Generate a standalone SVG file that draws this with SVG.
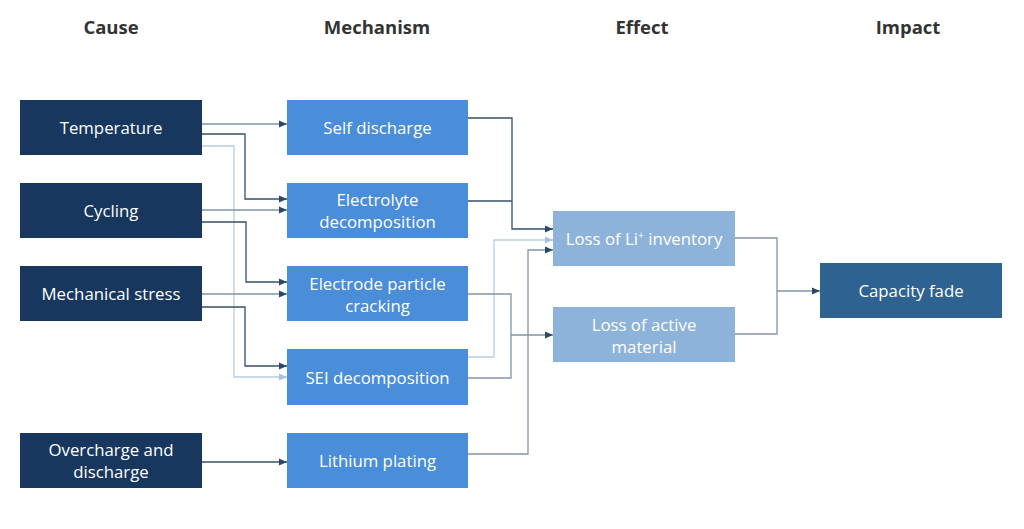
<svg xmlns="http://www.w3.org/2000/svg" width="1024" height="529" viewBox="0 0 1024 529">
<style>
.hdr{font-family:"Open Sans","Noto Sans",sans-serif;font-weight:bold;font-size:18.5px;fill:#333;text-anchor:middle}
.t{font-family:"Open Sans","Noto Sans",sans-serif;font-size:16.8px;fill:#fff;text-anchor:middle}
.cause{fill:#17375e}
.mech{fill:#4a8dd8}
.eff{fill:#8db3da}
.imp{fill:#2e6391}
.c{fill:none;stroke-width:1.3}
.dk{stroke:#34506f}
.md{stroke:#8194a8}
.lt{stroke:#b9cde2}
</style>
<defs>
<marker id="ad" markerUnits="userSpaceOnUse" markerWidth="10" markerHeight="10" refX="9" refY="5" orient="auto"><path d="M1,1.5 L9,5 L1,8.5 Z" fill="#2c4868"/></marker>
<marker id="al" markerUnits="userSpaceOnUse" markerWidth="10" markerHeight="10" refX="9" refY="5" orient="auto"><path d="M1,1.5 L9,5 L1,8.5 Z" fill="#a9c1db"/></marker>
</defs>
<rect width="1024" height="529" fill="#fff"/>
<g id="headers">
<text class="hdr" x="111" y="34">Cause</text>
<text class="hdr" x="377" y="34">Mechanism</text>
<text class="hdr" x="642" y="34">Effect</text>
<text class="hdr" x="908" y="34">Impact</text>
</g>
<g id="connectors">
<path class="c md" d="M202,124 H287" marker-end="url(#ad)"/>
<path class="c dk" d="M202,134 H245 V199 H287" marker-end="url(#ad)"/>
<path class="c lt" d="M202,146 H234 V377 H287" marker-end="url(#al)"/>
<path class="c md" d="M202,210 H287" marker-end="url(#ad)"/>
<path class="c dk" d="M202,222 H246 V282 H287" marker-end="url(#ad)"/>
<path class="c md" d="M202,294 H287" marker-end="url(#ad)"/>
<path class="c dk" d="M202,307 H245 V366 H287" marker-end="url(#ad)"/>
<path class="c dk" d="M202,462 H287" marker-end="url(#ad)"/>
<path class="c dk" d="M468,118 H512 V229 H553" marker-end="url(#ad)"/>
<path class="c dk" d="M468,201 H512"/>
<path class="c lt" d="M468,357 H494 V240 H553" marker-end="url(#al)"/>
<path class="c md" d="M468,454 H528 V250 H553" marker-end="url(#ad)"/>
<path class="c md" d="M468,294 H511 V378 H468"/>
<path class="c md" d="M511,335 H553" marker-end="url(#ad)"/>
<path class="c md" d="M735,238 H777 V334 H735"/>
<path class="c md" d="M777,291 H820" marker-end="url(#ad)"/>
</g>
<g id="n-temperature"><rect class="cause" x="20" y="100" width="182" height="55"/><text class="t" x="111" y="134">Temperature</text></g>
<g id="n-cycling"><rect class="cause" x="20" y="183" width="182" height="55"/><text class="t" x="111" y="217">Cycling</text></g>
<g id="n-mechanical"><rect class="cause" x="20" y="266" width="182" height="55"/><text class="t" x="111" y="300">Mechanical stress</text></g>
<g id="n-overcharge"><rect class="cause" x="20" y="433" width="182" height="55"/><text class="t" x="111" y="456">Overcharge and</text><text class="t" x="111" y="478">discharge</text></g>
<g id="n-self"><rect class="mech" x="287" y="100" width="181" height="55"/><text class="t" x="377.5" y="134">Self discharge</text></g>
<g id="n-electrolyte"><rect class="mech" x="287" y="183" width="181" height="55"/><text class="t" x="377.5" y="206">Electrolyte</text><text class="t" x="377.5" y="228">decomposition</text></g>
<g id="n-electrode"><rect class="mech" x="287" y="266" width="181" height="55"/><text class="t" x="377.5" y="290">Electrode particle</text><text class="t" x="377.5" y="312">cracking</text></g>
<g id="n-sei"><rect class="mech" x="287" y="349" width="181" height="56"/><text class="t" x="377.5" y="384">SEI decomposition</text></g>
<g id="n-plating"><rect class="mech" x="287" y="433" width="181" height="55"/><text class="t" x="377.5" y="467">Lithium plating</text></g>
<g id="n-li"><rect class="eff" x="553" y="211" width="182" height="55"/><text class="t" x="644" y="245">Loss of Li<tspan font-size="10.5" dy="-6">+</tspan><tspan dy="6"> inventory</tspan></text></g>
<g id="n-active"><rect class="eff" x="553" y="307" width="182" height="55"/><text class="t" x="644" y="331">Loss of active</text><text class="t" x="644" y="353">material</text></g>
<g id="n-capacity"><rect class="imp" x="820" y="263" width="182" height="55"/><text class="t" x="911" y="297">Capacity fade</text></g>
</svg>
